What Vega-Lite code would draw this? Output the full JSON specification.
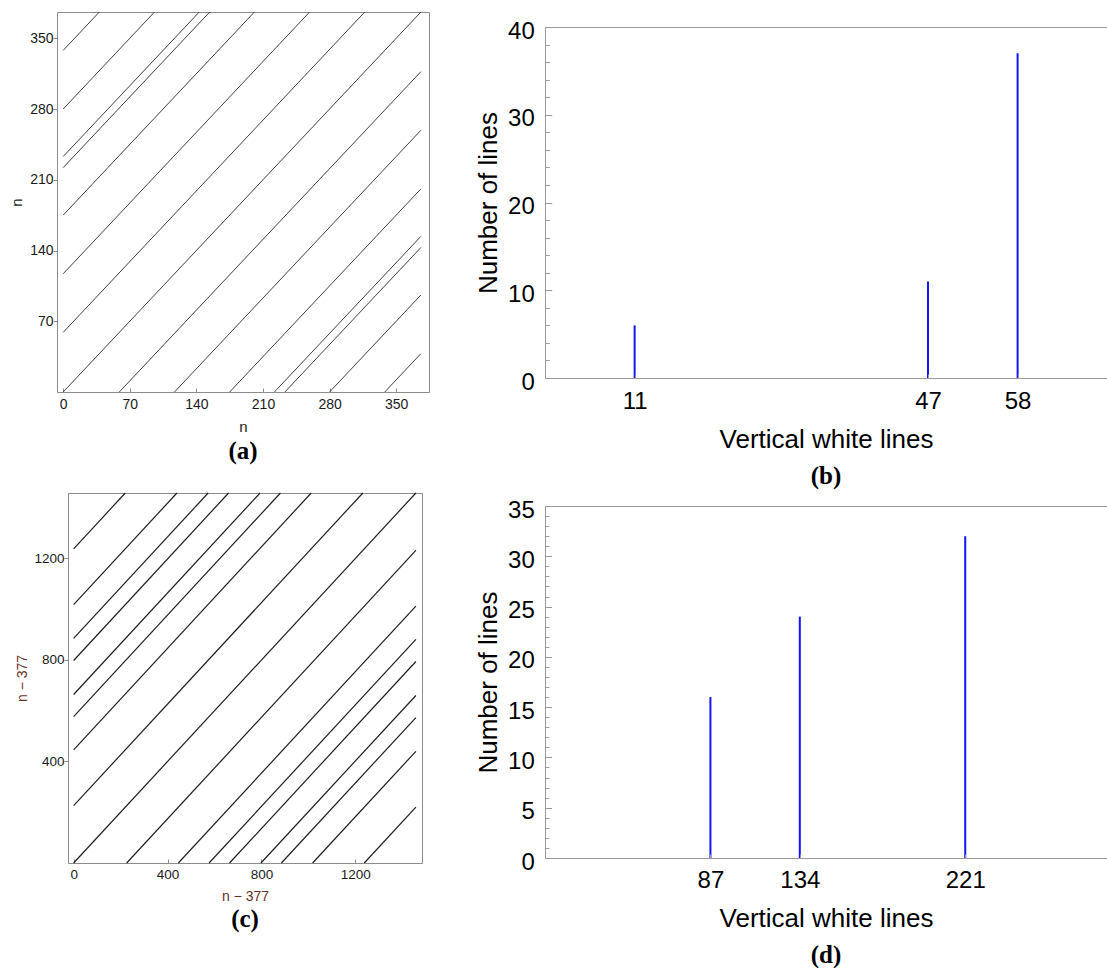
{
  "padding": {"left": 7, "top": 11, "right": 0, "bottom": 0},
  "background": "white",
  "spacing": 45,
  "datasets": {
    "segA": [
      {"x1": 0, "y1": 0, "x2": 376, "y2": 376},
      {"x1": 0, "y1": 59, "x2": 317, "y2": 376}, {"x1": 59, "y1": 0, "x2": 376, "y2": 317},
      {"x1": 0, "y1": 117, "x2": 259, "y2": 376}, {"x1": 117, "y1": 0, "x2": 376, "y2": 259},
      {"x1": 0, "y1": 175, "x2": 201, "y2": 376}, {"x1": 175, "y1": 0, "x2": 376, "y2": 201},
      {"x1": 0, "y1": 222, "x2": 154, "y2": 376}, {"x1": 222, "y1": 0, "x2": 376, "y2": 154},
      {"x1": 0, "y1": 233, "x2": 143, "y2": 376}, {"x1": 233, "y1": 0, "x2": 376, "y2": 143},
      {"x1": 0, "y1": 280, "x2": 96, "y2": 376}, {"x1": 280, "y1": 0, "x2": 376, "y2": 96},
      {"x1": 0, "y1": 338, "x2": 38, "y2": 376}, {"x1": 338, "y1": 0, "x2": 376, "y2": 38}
    ],
    "segC": [
      {"x1": 0, "y1": 0, "x2": 1458, "y2": 1458},
      {"x1": 0, "y1": 226, "x2": 1232, "y2": 1458}, {"x1": 226, "y1": 0, "x2": 1458, "y2": 1232},
      {"x1": 0, "y1": 446, "x2": 1012, "y2": 1458}, {"x1": 446, "y1": 0, "x2": 1458, "y2": 1012},
      {"x1": 0, "y1": 577, "x2": 881, "y2": 1458}, {"x1": 577, "y1": 0, "x2": 1458, "y2": 881},
      {"x1": 0, "y1": 664, "x2": 794, "y2": 1458}, {"x1": 664, "y1": 0, "x2": 1458, "y2": 794},
      {"x1": 0, "y1": 798, "x2": 660, "y2": 1458}, {"x1": 798, "y1": 0, "x2": 1458, "y2": 660},
      {"x1": 0, "y1": 885, "x2": 573, "y2": 1458}, {"x1": 885, "y1": 0, "x2": 1458, "y2": 573},
      {"x1": 0, "y1": 1018, "x2": 440, "y2": 1458}, {"x1": 1018, "y1": 0, "x2": 1458, "y2": 440},
      {"x1": 0, "y1": 1238, "x2": 220, "y2": 1458}, {"x1": 1238, "y1": 0, "x2": 1458, "y2": 220}
    ],
    "histB": [
      {"len": 11, "count": 6},
      {"len": 47, "count": 11},
      {"len": 58, "count": 37}
    ],
    "histD": [
      {"len": 87, "count": 16},
      {"len": 134, "count": 24},
      {"len": 221, "count": 32}
    ],
    "blank": [{"k": 0}]
  },
  "hconcat": [
    {
      "spacing": 26,
      "vconcat": [
        {
          "spacing": 0,
          "hconcat": [
            {"width": 1, "height": 1, "data": {"name": "blank"}, "mark": {"type": "rect", "opacity": 0}},
            {
              "width": 372, "height": 380,
              "data": {"name": "segA"},
              "view": {"stroke": "#8c8c8c", "strokeWidth": 1},
              "mark": {"type": "rule", "stroke": "#404040", "strokeWidth": 1},
              "encoding": {
                "x": {"field": "x1", "type": "quantitative",
                  "scale": {"domain": [-6.5, 384.5], "nice": false, "zero": false},
                  "axis": {"values": [0, 70, 140, 210, 280, 350], "format": "d", "domain": false, "tickSize": -4, "tickColor": "#8c8c8c",
                    "labelPadding": 9.3, "labelFontSize": 14, "labelColor": "#1a1a1a",
                    "title": "n", "titleFontSize": 15, "titlePadding": 7.7, "titleColor": "#1a1a1a"}},
                "y": {"field": "y1", "type": "quantitative",
                  "scale": {"domain": [0, 376], "nice": false, "zero": false},
                  "axis": {"values": [70, 140, 210, 280, 350], "format": "d", "domain": false, "tickSize": 4, "tickColor": "#8c8c8c",
                    "labelPadding": 0, "labelFontSize": 14, "labelColor": "#1a1a1a",
                    "title": "n", "titleFontSize": 15, "titlePadding": 5.5, "titleColor": "#1a1a1a"}},
                "x2": {"field": "x2"},
                "y2": {"field": "y2"}
              },
              "title": {"text": "(a)", "orient": "bottom", "offset": 5}
            }
          ]
        },
        {
          "spacing": 0,
          "hconcat": [
            {"width": 8, "height": 1, "data": {"name": "blank"}, "mark": {"type": "rect", "opacity": 0}},
            {
              "width": 354, "height": 370,
              "data": {"name": "segC"},
              "view": {"stroke": "#8c8c8c", "strokeWidth": 1},
              "mark": {"type": "rule", "stroke": "#1e1e1e", "strokeWidth": 1.2},
              "encoding": {
                "x": {"field": "x1", "type": "quantitative",
                  "scale": {"domain": [-24, 1484], "nice": false, "zero": false},
                  "axis": {"values": [0, 400, 800, 1200], "format": "d", "domain": false, "tickSize": -4, "tickColor": "#8c8c8c",
                    "labelPadding": 8.5, "labelFontSize": 13.5, "labelColor": "#1a1a1a",
                    "title": "n − 377", "titleFontSize": 14, "titlePadding": 8.3, "titleColor": "#6b2e22"}},
                "y": {"field": "y1", "type": "quantitative",
                  "scale": {"domain": [0, 1458], "nice": false, "zero": false},
                  "axis": {"values": [400, 800, 1200], "format": "d", "domain": false, "tickSize": 4, "tickColor": "#8c8c8c",
                    "labelPadding": 0, "labelFontSize": 13.5, "labelColor": "#1a1a1a",
                    "title": "n − 377", "titleFontSize": 14, "titlePadding": 4, "titleColor": "#6b2e22"}},
                "x2": {"field": "x2"},
                "y2": {"field": "y2"}
              },
              "title": {"text": "(c)", "orient": "bottom", "offset": 4}
            }
          ]
        }
      ]
    },
    {
      "spacing": 9,
      "vconcat": [
        {
          "spacing": 0,
          "vconcat": [
            {"width": 1, "height": 7, "data": {"name": "blank"}, "mark": {"type": "rect", "opacity": 0}},
            {
              "width": 562, "height": 351,
              "data": {"name": "histB"},
              "mark": {"type": "rule", "stroke": "#1414ff", "strokeWidth": 2},
              "encoding": {
                "x": {"field": "len", "type": "quantitative",
                  "scale": {"domain": [0, 68.97], "nice": false, "zero": false},
                  "axis": {"values": [11, 47, 58], "domainColor": "#999999", "tickColor": "#999999", "tickSize": -4,
                    "labelPadding": 15.2, "labelFontSize": 24,
                    "title": "Vertical white lines", "titleFontSize": 26, "titlePadding": 13.6, "zindex": 1}},
                "y": {"field": "count", "type": "quantitative",
                  "scale": {"domain": [0, 40], "nice": false, "zero": false},
                  "axis": {"values": [0, 2, 4, 6, 8, 10, 12, 14, 16, 18, 20, 22, 24, 26, 28, 30, 32, 34, 36, 38, 40],
                    "labelExpr": "datum.value % 10 === 0 ? datum.label : ''",
                    "tickSize": {"condition": {"test": "datum.value % 10 === 0", "value": -6.7}, "value": -4.3},
                    "labelPadding": 17.4, "labelOffset": 4, "labelFontSize": 24,
                    "domainColor": "#999999", "tickColor": "#999999",
                    "grid": true, "gridColor": "#999999",
                    "gridOpacity": {"condition": {"test": "datum.value === 40", "value": 1}, "value": 0},
                    "title": "Number of lines", "titleFontSize": 26, "titlePadding": 6.3, "zindex": 1}},
                "y2": {"datum": 0}
              },
              "title": {"text": "(b)", "orient": "bottom", "offset": 11}
            }
          ]
        },
        {
          "width": 562, "height": 352,
          "data": {"name": "histD"},
          "mark": {"type": "rule", "stroke": "#1414ff", "strokeWidth": 2},
          "encoding": {
            "x": {"field": "len", "type": "quantitative",
              "scale": {"domain": [0, 295.56], "nice": false, "zero": false},
              "axis": {"values": [87, 134, 221], "domainColor": "#999999", "tickColor": "#999999", "tickSize": -4,
                "labelPadding": 14.2, "labelFontSize": 24,
                "title": "Vertical white lines", "titleFontSize": 26, "titlePadding": 13.5, "zindex": 1}},
            "y": {"field": "count", "type": "quantitative",
              "scale": {"domain": [0, 35], "nice": false, "zero": false},
              "axis": {"values": [0, 1, 2, 3, 4, 5, 6, 7, 8, 9, 10, 11, 12, 13, 14, 15, 16, 17, 18, 19, 20, 21, 22, 23, 24, 25, 26, 27, 28, 29, 30, 31, 32, 33, 34, 35],
                "labelExpr": "datum.value % 5 === 0 ? datum.label : ''",
                "tickSize": {"condition": {"test": "datum.value % 5 === 0", "value": -6.5}, "value": -3.9},
                "labelPadding": 17.2, "labelOffset": 4, "labelFontSize": 24,
                "domainColor": "#999999", "tickColor": "#999999",
                "grid": true, "gridColor": "#999999",
                "gridOpacity": {"condition": {"test": "datum.value === 35", "value": 1}, "value": 0},
                "title": "Number of lines", "titleFontSize": 26, "titlePadding": 6.3, "zindex": 1}},
            "y2": {"datum": 0}
          },
          "title": {"text": "(d)", "orient": "bottom", "offset": 11}
        }
      ]
    }
  ],
  "config": {
    "view": {"stroke": null},
    "axis": {
      "labelFont": "Liberation Sans",
      "titleFont": "Liberation Sans",
      "titleFontWeight": "normal",
      "labelFlush": false,
      "labelOverlap": false,
      "grid": false,
      "labelColor": "#000000",
      "titleColor": "#000000"
    },
    "title": {
      "font": "Liberation Serif",
      "fontSize": 25,
      "fontWeight": "bold",
      "color": "#000000",
      "baseline": "top",
      "anchor": "middle"
    }
  }
}
